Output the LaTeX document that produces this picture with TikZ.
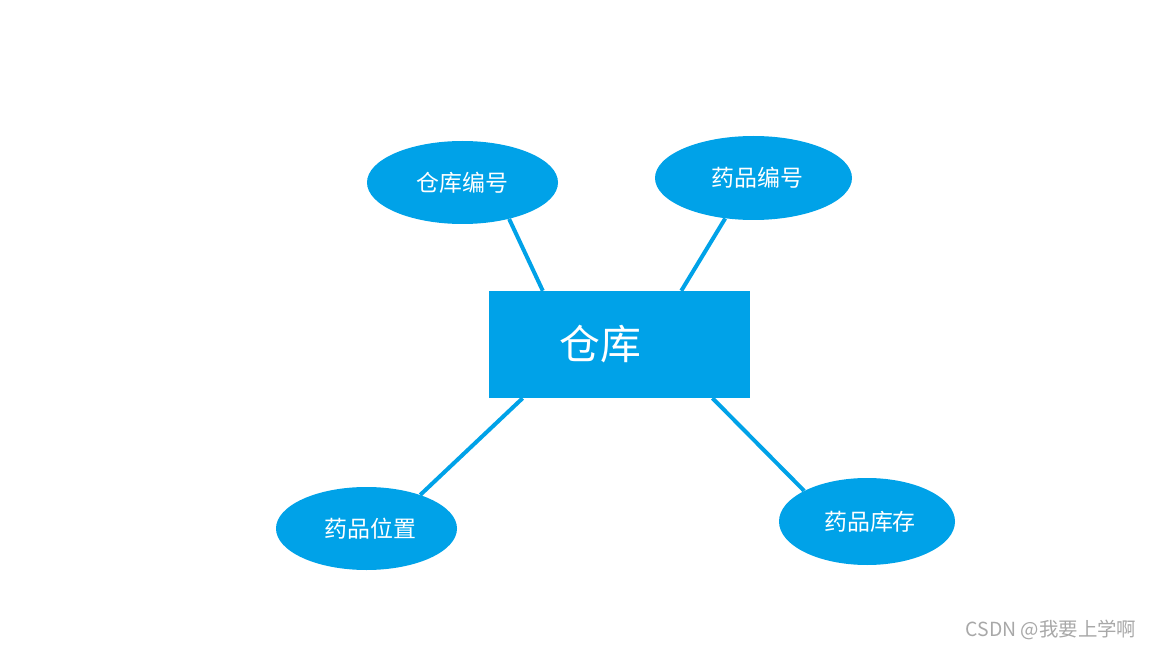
\documentclass[tikz,border=0pt]{standalone}
\usepackage{fontspec}
\setmainfont{Noto Sans CJK SC}
\usepackage{tikz}
\usetikzlibrary{shapes.geometric}
\definecolor{sky}{HTML}{00A2E8}
\definecolor{wmgray}{HTML}{A8A8A8}
\tikzset{
  x=1bp, y=-1bp,
  ent/.style  = {draw=none, fill=sky, text=white, minimum width=261bp,
                 minimum height=107bp, inner sep=0pt,
                 font=\fontsize{41}{46}\selectfont},
  attr/.style = {ellipse, draw=none, fill=sky, text=white, inner sep=0pt,
                 font=\fontsize{23}{27}\selectfont},
  link/.style = {draw=sky, line width=4bp},
}

\begin{document}
\begin{tikzpicture}
\useasboundingbox (0,0) rectangle (1152,648);

% ---- the entity -------------------------------------------------------
\node[ent] at (619.5,344.5) (wh) {\raisebox{-3bp}{仓库}\hspace*{38bp}};

% ---- its attributes ---------------------------------------------------
\node[attr, minimum width=191bp, minimum height=83bp] at (462.5,182.5) (whno) {\raisebox{-3bp}{仓库编号}};
\node[attr, minimum width=197bp, minimum height=84bp] at (753.5,178) (drno) {\raisebox{-3bp}{\hspace*{8bp}药品编号}};
\node[attr, minimum width=181bp, minimum height=83bp] at (366.5,528.5) (drpos) {\raisebox{-2bp}{\hspace*{8bp}药品位置}};
\node[attr, minimum width=176bp, minimum height=87bp] at (867,521.5) (drstock) {\hspace*{6bp}药品库存};

% ---- links ------------------------------------------------------------
\draw[link] (whno.-38) -- (wh.145);
\draw[link] (drno.-125) -- (wh.41.5);
\draw[link] (drpos.32) -- (wh.-151.7);
\draw[link] (drstock.154) -- (wh.-30);

\node[text=wmgray, font=\fontsize{19.5}{23}\selectfont] at (1051,630) (wm) {CSDN @我要上学啊};

\end{tikzpicture}
\end{document}
